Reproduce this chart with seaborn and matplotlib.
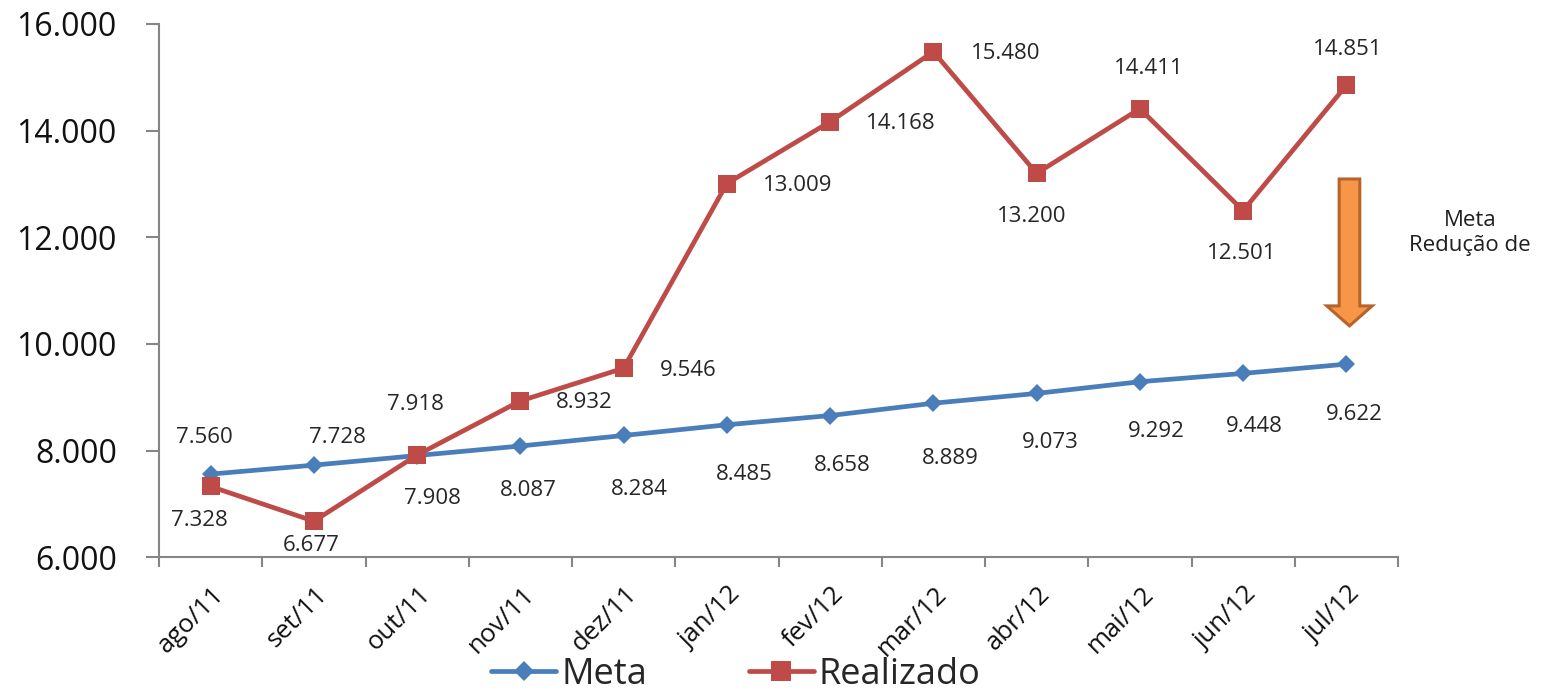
import numpy as np
import pandas as pd
import matplotlib
matplotlib.use("Agg")
import matplotlib.pyplot as plt
from matplotlib.patches import FancyArrow
from matplotlib.lines import Line2D
from matplotlib.transforms import ScaledTranslation
import seaborn as sns

# dados
meses = ["ago/11", "set/11", "out/11", "nov/11", "dez/11", "jan/12",
         "fev/12", "mar/12", "abr/12", "mai/12", "jun/12", "jul/12"]
meta = [7560, 7728, 7908, 8087, 8284, 8485, 8658, 8889, 9073, 9292, 9448, 9622]
realizado = [7328, 6677, 7918, 8932, 9546, 13009, 14168, 15480, 13200, 14411, 12501, 14851]
y_ticks = [6000, 8000, 10000, 12000, 14000, 16000]
nota = "Meta\nRedução de"

# deslocamento dos rotulos (pixels)
off_meta = [(-6, 37), (24, 28), (15, -43), (8, -44), (16, -54), (17, -50),
            (12, -50), (17, -55), (14, -49), (16, -50), (11, -53), (8, -50)]
off_real = [(-11, -34), (-3, -24), (-2, 51), (64, -2), (65, -2), (71, -2),
            (71, -2), (72, -2), (-5, -43), (9, 40), (-1, -43), (1, 36)]

cores = {"Meta": "#4A7EBB", "Realizado": "#BE4B48"}
cinza = "#868686"

df = pd.DataFrame({
    "pos": list(range(len(meses))) * 2,
    "valor": meta + realizado,
    "serie": ["Meta"] * len(meta) + ["Realizado"] * len(realizado),
})

sns.set_theme(style="white")
plt.rcParams["font.family"] = ["Open Sans", "DejaVu Sans"]

W, H = 1543, 691
fig = plt.figure(figsize=(W / 100, H / 100), dpi=100)
ax = fig.add_axes([159 / W, 1 - 557.3 / H, (1398 - 159) / W, (557.3 - 24) / H])

sns.lineplot(data=df[df.serie == "Meta"], x="pos", y="valor", color=cores["Meta"],
             marker="D", markersize=9.2, markeredgewidth=0, linewidth=3.4,
             ax=ax, legend=False, sort=False)
sns.lineplot(data=df[df.serie == "Realizado"], x="pos", y="valor", color=cores["Realizado"],
             marker="s", markersize=13, markeredgewidth=0, linewidth=3.4,
             ax=ax, legend=False, sort=False)

for i, v in enumerate(meta):
    ax.annotate(f"{v:,}".replace(",", "."), (i, v), xytext=off_meta[i],
                textcoords="offset pixels", ha="center", va="center",
                fontsize=16, color="#262626")
for i, v in enumerate(realizado):
    ax.annotate(f"{v:,}".replace(",", "."), (i, v), xytext=off_real[i],
                textcoords="offset pixels", ha="center", va="center",
                fontsize=16, color="#262626")

ax.set_xlim(-0.5, len(meses) - 0.5)
ax.set_ylim(y_ticks[0], y_ticks[-1])
ax.set_yticks(y_ticks)
ax.set_yticklabels([f"{v:,}".replace(",", ".") for v in y_ticks], fontsize=23, color="#111111")
ax.set_xticks(range(len(meses)))
ax.set_xticklabels(meses, rotation=45, ha="right", rotation_mode="anchor",
                   va="center", fontsize=18.5, color="#111111")
ax.set_xticks(np.arange(-0.5, len(meses), 1), minor=True)
ax.tick_params(axis="x", which="major", bottom=True, length=0, pad=24)
ax.tick_params(axis="x", which="minor", bottom=True, length=7.5, width=1.5,
               color=cinza, direction="out")
ax.tick_params(axis="y", left=True, length=9.4, width=1.5, color=cinza,
               direction="out", pad=21)
ax.set_xlabel("")
ax.set_ylabel("")
for lbl in ax.get_xticklabels():
    lbl.set_transform(lbl.get_transform() + ScaledTranslation(0.10, 0, fig.dpi_scale_trans))

for s in ["top", "right"]:
    ax.spines[s].set_visible(False)
for s in ["left", "bottom"]:
    ax.spines[s].set_color(cinza)
    ax.spines[s].set_linewidth(1.5)
ax.grid(False)

# seta laranja
seta = FancyArrow(11.03, 13094, 0, 10339 - 13094, width=0.2, head_width=0.44,
                  head_length=375, length_includes_head=True,
                  facecolor="#F79646", edgecolor="#B5652A", linewidth=2.2)
ax.add_patch(seta)
ax.text(12.2, 12080, nota, ha="center", va="center", fontsize=16,
        color="#1F1F1F", linespacing=1.2, clip_on=False)

handles = [
    Line2D([], [], color=cores["Meta"], marker="D", markersize=10, markeredgewidth=0, linewidth=3.4),
    Line2D([], [], color=cores["Realizado"], marker="s", markersize=14, markeredgewidth=0, linewidth=3.4),
]
fig.legend(handles, ["Meta", "Realizado"], loc="center",
           bbox_to_anchor=(736 / W, 1 - 675 / H), ncol=2, frameon=False,
           fontsize=26, handlelength=1.8, handletextpad=0.15, columnspacing=2.8)

fig.savefig("out.png", dpi=100)
